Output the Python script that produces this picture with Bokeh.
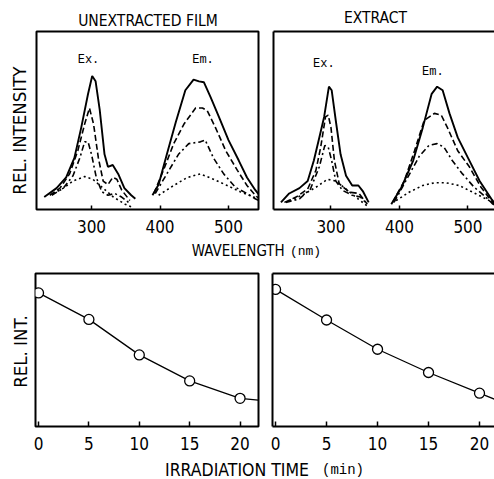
import math
from bokeh.plotting import figure
from bokeh.models import Label, LinearAxis, FixedTicker, Range1d
from bokeh.layouts import column, row
from bokeh.embed import file_html
from bokeh.resources import INLINE

SANS = "DejaVu Sans Condensed"
MONO = "Liberation Mono"

# ---------------- data: unextracted film ----------------
film_ex_solid_wl = [231, 249, 263, 275, 285, 295, 301, 306, 312, 319, 324, 331, 339, 348, 358, 364]
film_ex_solid = [7, 12, 18, 29, 46, 65, 75, 72, 56, 31, 24, 25, 20, 12, 8, 6]
film_ex_dash_wl = [239, 254, 268, 280, 290, 297, 303, 310, 317, 324, 331, 337, 344, 356]
film_ex_dash = [8, 12, 20, 33, 48, 57, 48, 29, 16, 14, 18, 17, 11, 5]
film_ex_dashdot_wl = [242, 259, 273, 283, 290, 295, 300, 307, 315, 324, 334, 344, 354]
film_ex_dashdot = [8, 12, 19, 29, 38, 38, 31, 18, 10, 8, 9, 7, 4]
film_ex_dot_wl = [244, 259, 273, 290, 302, 317, 332, 349, 361]
film_ex_dot = [9, 12, 16, 18.5, 17, 12, 7, 3, 1]

film_em_solid_wl = [389, 398, 410, 423, 437, 449, 457, 464, 474, 486, 500, 515, 527, 539, 545]
film_em_solid = [8, 14, 31, 49, 67, 73, 72, 71.5, 63, 52, 39, 27.5, 18, 11, 8]
film_em_dash_wl = [391, 405, 420, 435, 452, 462, 469, 481, 496, 513, 527, 539, 545]
film_em_dash = [9, 22, 37, 48, 57, 57, 55.5, 46, 33, 22, 13.5, 8, 6]
film_em_dashdot_wl = [393, 410, 427, 442, 459, 466, 478, 493, 510, 527, 539, 545]
film_em_dashdot = [9, 20, 31, 37, 38, 39, 29, 20, 12.5, 9, 6, 5]
film_em_dot_wl = [398, 420, 440, 459, 478, 498, 517, 537, 545]
film_em_dot = [8, 13.5, 18, 20, 17, 13.5, 10, 7, 6]

# ---------------- data: extract ----------------
ext_ex_solid_wl = [227, 239, 254, 266, 275, 283, 290, 297, 301, 307, 314, 322, 331, 340, 347, 355]
ext_ex_solid = [4, 9, 12, 16, 27.5, 40.5, 52, 69, 67, 50, 31, 19, 13.5, 13.5, 10, 4]
ext_ex_dash_wl = [232, 249, 266, 278, 285, 292, 296, 300, 305, 312, 327, 341, 353]
ext_ex_dash = [4, 7, 11.5, 22, 35, 52, 53, 46, 27.5, 14.5, 9.7, 9, 3]
ext_ex_dashdot_wl = [234, 254, 270, 283, 291, 296, 301, 307, 317, 331, 343, 353]
ext_ex_dashdot = [4, 6, 11.5, 24, 36, 35, 27.5, 16, 10.7, 8, 7, 3]
ext_ex_dot_wl = [239, 258, 278, 295, 307, 322, 336, 353]
ext_ex_dot = [5, 8, 12.5, 17, 16, 11.5, 7, 2]

ext_em_solid_wl = [388, 403, 420, 434, 447, 455, 463, 473, 485, 500, 517, 534, 540]
ext_em_solid = [3, 12.5, 27.5, 46, 65, 69, 67, 54, 40.5, 29, 16, 6, 3]
ext_em_dash_wl = [390, 407, 422, 436, 451, 461, 470, 485, 502, 519, 534, 540]
ext_em_dash = [4, 16, 33, 50, 54, 53, 46, 33, 24, 12.5, 5, 2.5]
ext_em_dashdot_wl = [392, 412, 429, 443, 455, 465, 477, 492, 509, 526, 535, 540]
ext_em_dashdot = [4, 18, 30, 36, 37, 35, 27.5, 20, 12.5, 7, 3.5, 2]
ext_em_dot_wl = [395, 414, 434, 451, 468, 487, 507, 526, 536, 540]
ext_em_dot = [5, 9.7, 13.5, 15, 15, 13.5, 9.7, 6, 4, 3]

wavelength_ticks = [300, 400, 500]

# ---------------- data: irradiation time ----------------
time_min = [0, 5, 10, 15, 20]
film_rel_int = [0.873, 0.70, 0.468, 0.298, 0.184]
ext_rel_int = [0.896, 0.696, 0.505, 0.353, 0.218]
film_curve_t = [0, 5, 10, 15, 20, 21.8]
film_curve = [0.873, 0.70, 0.468, 0.298, 0.184, 0.173]
ext_curve_t = [0, 5, 10, 15, 20, 21.5]
ext_curve = [0.896, 0.696, 0.505, 0.353, 0.218, 0.178]
time_ticks = [0, 5, 10, 15, 20]

STYLES = {"solid": "solid", "dash": "6 3", "dashdot": "6 3 2 3", "dot": "2 3"}


def blank_fig(width, height):
    p = figure(width=width, height=height, x_range=Range1d(0, width), y_range=Range1d(0, height),
               output_backend="svg", toolbar_location=None, min_border=0)
    p.title.visible = False
    p.axis.visible = False
    p.grid.visible = False
    p.outline_line_color = None
    return p


def base_fig(width, height, xr, yr, left, right, top, bottom, closed, ticks, tick_len):
    p = figure(width=width, height=height, x_range=Range1d(*xr), y_range=Range1d(*yr),
               output_backend="svg", toolbar_location=None,
               min_border_left=left, min_border_right=right,
               min_border_top=top, min_border_bottom=bottom)
    p.title.visible = False
    p.grid.visible = False
    xa = p.below[0]
    ya = p.left[0]
    xa.ticker = FixedTicker(ticks=ticks)
    xa.minor_tick_line_color = None
    xa.major_tick_in = tick_len
    xa.major_tick_out = 0
    xa.major_tick_line_width = 1.5
    xa.major_label_text_font = SANS
    xa.major_label_text_font_size = "17px"
    xa.major_label_text_color = "black"
    xa.major_label_standoff = 10
    if closed:
        p.outline_line_color = "black"
        p.outline_line_width = 2
        ya.visible = False
        xa.axis_line_color = None
    else:
        p.outline_line_color = None
        ya.ticker = FixedTicker(ticks=[])
        ya.major_tick_line_color = None
        ya.minor_tick_line_color = None
        ya.axis_line_width = 2
        ya.axis_line_color = "black"
        xa.axis_line_width = 2
        xa.axis_line_color = "black"
        top_ax = LinearAxis(ticker=FixedTicker(ticks=[]), axis_line_width=2, axis_line_color="black",
                            major_tick_line_color=None, minor_tick_line_color=None)
        p.add_layout(top_ax, "above")
    return p


def spectra(p, sets):
    for wl, vals, style in sets:
        width = 1.9 if style == "solid" else 1.6
        p.line(wl, vals, line_color="black", line_width=width, line_dash=STYLES[style])


def add_label(p, x, y, text, font=SANS, size="15.5px", angle=0.0):
    p.add_layout(Label(x=x, y=y, text=text, text_font=font, text_font_size=size,
                       text_align="center", text_baseline="middle", angle=angle,
                       text_color="black"))


# ---------- titles row ----------
title_fig = blank_fig(494, 29)
add_label(title_fig, 147.5, 9, "UNEXTRACTED FILM")
add_label(title_fig, 375, 12, "EXTRACT")

# ---------- top row ----------
ylab_top = blank_fig(34, 212)
add_label(ylab_top, 19, 94, "REL. INTENSITY", SANS, "18.5px", math.pi / 2)

tl = base_fig(231, 212, (219.7, 543.8), (0, 100), 2, 7, 2, 32, True, wavelength_ticks, 4)
spectra(tl, [
    (film_ex_solid_wl, film_ex_solid, "solid"), (film_ex_dash_wl, film_ex_dash, "dash"),
    (film_ex_dashdot_wl, film_ex_dashdot, "dashdot"), (film_ex_dot_wl, film_ex_dot, "dot"),
    (film_em_solid_wl, film_em_solid, "solid"), (film_em_dash_wl, film_em_dash, "dash"),
    (film_em_dashdot_wl, film_em_dashdot, "dashdot"), (film_em_dot_wl, film_em_dot, "dot"),
])
add_label(tl, 295.6, 84, "Ex.", MONO, "12px")
add_label(tl, 462.8, 84, "Em.", MONO, "12px")

tr = base_fig(229, 212, (216.1, 538.7), (0, 100), 8, 0, 2, 32, False, wavelength_ticks, 4)
spectra(tr, [
    (ext_ex_solid_wl, ext_ex_solid, "solid"), (ext_ex_dash_wl, ext_ex_dash, "dash"),
    (ext_ex_dashdot_wl, ext_ex_dashdot, "dashdot"), (ext_ex_dot_wl, ext_ex_dot, "dot"),
    (ext_em_solid_wl, ext_em_solid, "solid"), (ext_em_dash_wl, ext_em_dash, "dash"),
    (ext_em_dashdot_wl, ext_em_dashdot, "dashdot"), (ext_em_dot_wl, ext_em_dot, "dot"),
])
add_label(tr, 289.5, 82, "Ex.", MONO, "12px")
add_label(tr, 448.6, 77.5, "Em.", MONO, "12px")

# ---------- shared wavelength label ----------
wl_fig = blank_fig(494, 19)
add_label(wl_fig, 237.7, 9.5, "WAVELENGTH", SANS, "15px")
add_label(wl_fig, 305.0, 9.5, "(nm)", MONO, "13px")

# ---------- bottom row ----------
ylab_bot = blank_fig(33, 198)
add_label(ylab_bot, 20, 97, "REL. INT.", SANS, "18.5px", math.pi / 2)

bl = base_fig(232, 198, (-0.3, 21.83), (0, 1), 2, 7, 13, 32, True, time_ticks, 5)
bl.line(film_curve_t, film_curve, line_color="black", line_width=1.3)
bl.scatter(time_min, film_rel_int, size=10, marker="circle", fill_color="white",
           line_color="black", line_width=1.3)

br = base_fig(229, 198, (-0.3, 21.47), (0, 1), 7, 0, 13, 32, False, time_ticks, 5)
br.line(ext_curve_t, ext_curve, line_color="black", line_width=1.3)
br.scatter(time_min, ext_rel_int, size=10, marker="circle", fill_color="white",
           line_color="black", line_width=1.3)

# ---------- shared time label ----------
tm_fig = blank_fig(494, 20)
add_label(tm_fig, 236.5, 9, "IRRADIATION TIME", SANS, "17.5px")
add_label(tm_fig, 342.5, 9, "(min)", MONO, "14px")

layout = column(title_fig, row(ylab_top, tl, tr), wl_fig, row(ylab_bot, bl, br), tm_fig)
open("out.html", "w").write(file_html(layout, INLINE))
